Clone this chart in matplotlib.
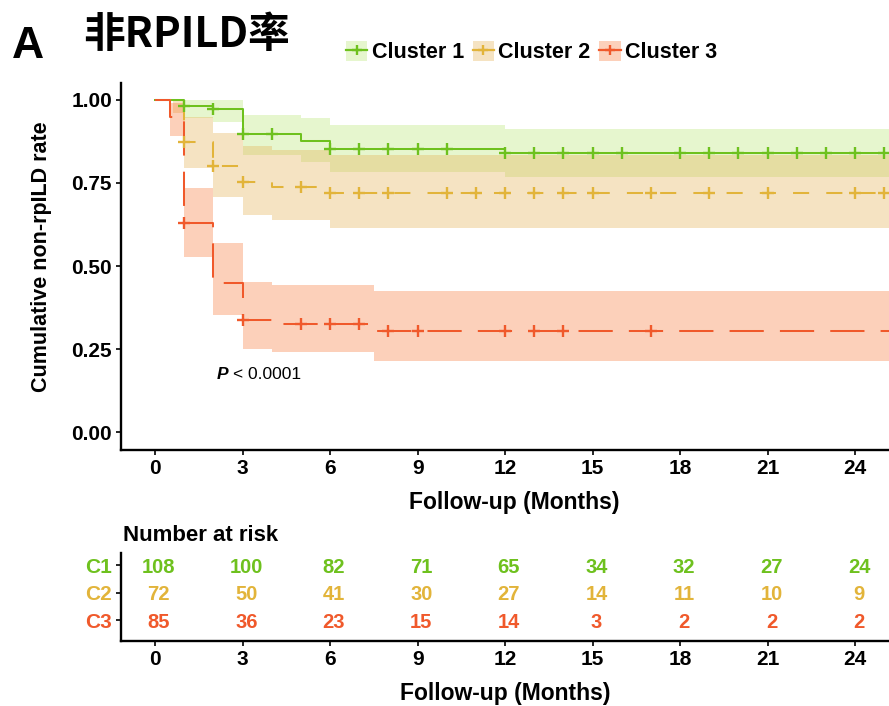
# -*- coding: utf-8 -*-
"""
非RPILD率 Kaplan-Meier 曲线 + number at risk
"""
import matplotlib
matplotlib.use("Agg")
import matplotlib.pyplot as plt
import numpy as np
from matplotlib.lines import Line2D
from matplotlib.patches import Patch

plt.rcParams['font.family'] = ['Liberation Sans', 'DejaVu Sans']
plt.rcParams['font.weight'] = 'bold'

# ---- data ----
groups = ["Cluster 1", "Cluster 2", "Cluster 3"]
short = ["C1", "C2", "C3"]

c1_time = [0, 1, 2, 3, 5, 6, 12]
c1_surv = [1.0, 0.981, 0.972, 0.897, 0.875, 0.851, 0.839]
c1_upper = [1.0, 1.0, 1.0, 0.955, 0.945, 0.925, 0.913]
c1_lower = [1.0, 0.945, 0.935, 0.834, 0.814, 0.784, 0.769]
c1_cens = [1, 2, 3, 4, 6, 7, 8, 9, 10, 12, 13, 14, 15, 16, 18, 19, 20, 21, 22, 23, 24, 25]

c2_time = [0, 0.6, 1, 2, 3, 4, 6]
c2_surv = [1.0, 0.986, 0.874, 0.80, 0.754, 0.739, 0.719]
c2_upper = [1.0, 1.0, 0.95, 0.90, 0.86, 0.85, 0.834]
c2_lower = [1.0, 0.96, 0.795, 0.709, 0.654, 0.638, 0.613]
c2_cens = [1, 2, 3, 5, 6, 7, 8, 10, 11, 12, 13, 14, 15, 17, 19, 21, 24, 25]

c3_time = [0, 0.5, 1, 2, 3, 4, 7.5]
c3_surv = [1.0, 0.95, 0.63, 0.448, 0.337, 0.324, 0.304]
c3_upper = [1.0, 0.99, 0.735, 0.568, 0.453, 0.443, 0.426]
c3_lower = [1.0, 0.89, 0.528, 0.352, 0.249, 0.24, 0.215]
c3_cens = [1, 3, 5, 6, 7, 8, 9, 12, 13, 14, 17]

risk_time = [0, 3, 6, 9, 12, 15, 18, 21, 24]
risk_c1 = [108, 100, 82, 71, 65, 34, 32, 27, 24]
risk_c2 = [72, 50, 41, 30, 27, 14, 11, 10, 9]
risk_c3 = [85, 36, 23, 15, 14, 3, 2, 2, 2]

line_col = ['#6EC11E', '#E2B43A', '#F0592B']
fill_col = ['#B8E873', '#E5B151', '#F9793A']
dash = [None, (8, 8.5), (17, 8)]

T_END = 26

curves = [
    (c1_time, c1_surv, c1_upper, c1_lower, c1_cens),
    (c2_time, c2_surv, c2_upper, c2_lower, c2_cens),
    (c3_time, c3_surv, c3_upper, c3_lower, c3_cens),
]

fig = plt.figure(figsize=(8.89, 7.06), dpi=100)
ax = fig.add_axes([0.136, 0.3626, 0.864, 0.5198])

# 置信区间
for i, (t, s, up, lo, ce) in enumerate(curves):
    tt = list(t) + [T_END]
    ax.fill_between(tt, list(lo) + [lo[-1]], list(up) + [up[-1]], step='post',
                    color=fill_col[i], alpha=0.35, lw=0, zorder=1)

# 生存曲线 + 删失点
for i, (t, s, up, lo, ce) in enumerate(curves):
    tt = list(t) + [T_END]
    ss = list(s) + [s[-1]]
    ln, = ax.step(tt, ss, where='post', color=line_col[i], lw=1.45, zorder=3)
    if dash[i] is not None:
        ln.set_dashes(dash[i])
    idx = np.searchsorted(t, ce, side='right') - 1
    ax.plot(ce, np.array(s)[idx], ls='none', marker='+', ms=8, mew=1.7,
            color=line_col[i], zorder=4)

ax.set_xlim(-1.17, 25.16)
ax.set_ylim(-0.054, 1.051)
ax.set_xticks(risk_time)
ax.set_yticks([0, 0.25, 0.5, 0.75, 1.0])
ax.set_yticklabels(['0.00', '0.25', '0.50', '0.75', '1.00'])
for sp in ['top', 'right']:
    ax.spines[sp].set_visible(False)
for sp in ['left', 'bottom']:
    ax.spines[sp].set_linewidth(1.7)
ax.tick_params(labelsize=15, length=3.5, width=1.2, pad=3)
ax.set_xlabel('Follow-up (Months)', fontsize=16.5, fontweight='bold')
ax.xaxis.set_label_coords(0.512, -0.112)

fig.text(0.047, 0.636, 'Cumulative non-rpILD rate', rotation=90,
         ha='center', va='center', fontsize=15.5, fontweight='bold')

ax.text(2.1, 0.172, 'P', style='italic', fontsize=12.5, fontweight='bold',
        ha='left', va='center')
ax.text(2.68, 0.172, '< 0.0001', fontsize=12.5, fontweight='normal',
        ha='left', va='center')

# 图例
handles = []
for i in range(3):
    handles.append((Patch(facecolor=fill_col[i], alpha=0.35, edgecolor='none'),
                    Line2D([], [], color=line_col[i], lw=1.6, marker='+', ms=7, mew=1.7)))
fig.legend(handles, groups, loc='center', bbox_to_anchor=(0.598, 0.926), ncol=3,
           frameon=False, fontsize=15.5, handlelength=1.0, handleheight=1.0,
           columnspacing=0.4, handletextpad=0.2)

# 标题
fig.text(0.0135, 0.934, 'A', fontsize=32, fontweight='bold', ha='left', va='center')
fig.text(0.094, 0.950, '非RPILD率', fontsize=30, fontweight='bold', ha='left', va='center',
         family=['Noto Sans CJK SC', 'DejaVu Sans'])

# number at risk
ax2 = fig.add_axes([0.136, 0.092, 0.864, 0.1247])
ax2.set_xlim(-1.17, 25.16)
ax2.set_ylim(0.236, 3.436)
risk = [risk_c1, risk_c2, risk_c3]
rows = [3, 2, 1]
for i in range(3):
    for t, n in zip(risk_time, risk[i]):
        ax2.text(t + 0.13, rows[i], str(n), ha='center', va='center_baseline',
                 color=line_col[i], fontsize=14.5, fontweight='bold')
ax2.set_yticks(rows)
ax2.set_yticklabels(short)
for lab, c in zip(ax2.get_yticklabels(), line_col):
    lab.set_color(c)
    lab.set_verticalalignment('center_baseline')
ax2.set_xticks(risk_time)
for sp in ['top', 'right']:
    ax2.spines[sp].set_visible(False)
for sp in ['left', 'bottom']:
    ax2.spines[sp].set_linewidth(1.7)
ax2.tick_params(labelsize=15, length=3.5, width=1.2, pad=3)
ax2.set_xlabel('Follow-up (Months)', fontsize=16.5, fontweight='bold')
ax2.xaxis.set_label_coords(0.5, -0.46)

fig.text(0.138, 0.242, 'Number at risk', fontsize=16, fontweight='bold',
         ha='left', va='center')

fig.savefig('out.png', dpi=100)
